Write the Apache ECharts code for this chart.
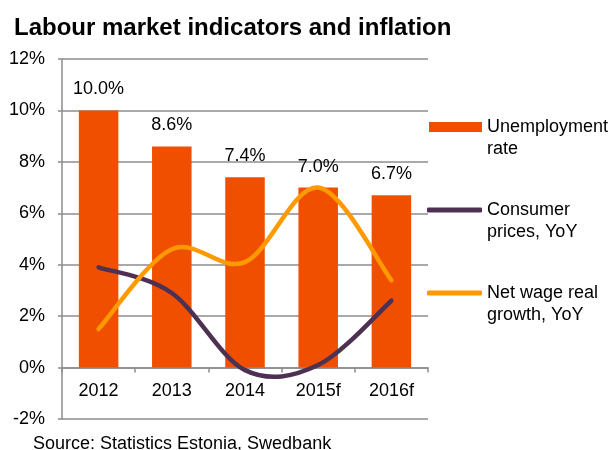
<!DOCTYPE html>
<html>
<head>
<meta charset="utf-8">
<script src="https://cdn.jsdelivr.net/npm/echarts@6/dist/echarts.min.js"></script>
<style>html,body{margin:0;padding:0;background:#fff}#c{width:613px;height:450px}</style>
</head>
<body>
<div id="c"></div>
<script>
const categories = ['2012', '2013', '2014', '2015f', '2016f'];
const unemployment = [10.0, 8.6, 7.4, 7.0, 6.7];
const consumerPrices = [3.9, 2.9, -0.1, 0.1, 2.6];
const netWage = [1.5, 4.6, 4.1, 7.0, 3.4];
const yTicks = { min: -2, max: 12, interval: 2 };
const names = ['Unemployment\nrate', 'Consumer\nprices, YoY', 'Net wage real\ngrowth, YoY'];

const FONT = '"Liberation Sans", Arial, sans-serif';
const GRID = { left: 62, right: 185, top: 59, bottom: 31 };
const plotH = 450 - GRID.top - GRID.bottom;
const zeroOffset = -plotH * (0 - yTicks.min) / (yTicks.max - yTicks.min);

// Excel-style smoothed line (Catmull-Rom Bezier) drawn via the chart's coordinate system
function smoothRenderer(color) {
  return function (params, api) {
    if (params.dataIndexInside !== 0) return null;
    const n = params.dataInsideLength;
    const pts = [];
    for (let j = 0; j < n; j++) pts.push(api.coord([api.value(0, j), api.value(1, j)]));
    let d = 'M' + pts[0][0] + ' ' + pts[0][1];
    for (let j = 0; j < n - 1; j++) {
      const p0 = pts[Math.max(0, j - 1)], p1 = pts[j], p2 = pts[j + 1], p3 = pts[Math.min(n - 1, j + 2)];
      const c1 = [p1[0] + (p2[0] - p0[0]) / 6, p1[1] + (p2[1] - p0[1]) / 6];
      const c2 = [p2[0] - (p3[0] - p1[0]) / 6, p2[1] - (p3[1] - p1[1]) / 6];
      d += ' C' + c1[0] + ' ' + c1[1] + ' ' + c2[0] + ' ' + c2[1] + ' ' + p2[0] + ' ' + p2[1];
    }
    return {
      type: 'path',
      shape: { pathData: d },
      style: { fill: null, stroke: color, lineWidth: 4.5, lineCap: 'round', lineJoin: 'round' }
    };
  };
}

const legendText = { fontFamily: FONT, fontSize: 18, color: '#000', lineHeight: 22 };
const legendFmt = name => ' \n' + name;
const chart = echarts.init(document.getElementById('c'), null, { renderer: 'canvas' });
chart.setOption({
  animation: false,
  title: {
    text: 'Labour market indicators and inflation',
    left: 9, top: 11,
    textStyle: { fontFamily: FONT, fontWeight: 'bold', fontSize: 24, color: '#000' }
  },
  grid: GRID,
  legend: [
    { data: [names[0]], left: 424, top: 89, icon: 'rect', itemWidth: 53, itemHeight: 10,
      formatter: legendFmt, textStyle: legendText, selectedMode: false },
    { data: [names[1]], left: 422, top: 172, icon: 'roundRect', itemWidth: 55, itemHeight: 5,
      formatter: legendFmt, textStyle: legendText, selectedMode: false },
    { data: [names[2]], left: 422, top: 255, icon: 'roundRect', itemWidth: 55, itemHeight: 5,
      formatter: legendFmt, textStyle: legendText, selectedMode: false }
  ],
  xAxis: {
    type: 'category',
    data: categories,
    offset: zeroOffset,
    axisLine: { onZero: false, lineStyle: { color: '#8c8c8c', width: 1.5 } },
    axisTick: { show: true, length: 5, lineStyle: { color: '#8c8c8c', width: 1.5 } },
    axisLabel: { fontFamily: FONT, fontSize: 18, color: '#000', margin: 14 }
  },
  yAxis: {
    type: 'value',
    min: yTicks.min, max: yTicks.max, interval: yTicks.interval,
    axisLine: { show: true, lineStyle: { color: '#8c8c8c', width: 1.5 } },
    axisTick: { show: true, length: 4, lineStyle: { color: '#8c8c8c', width: 1.5 } },
    axisLabel: { fontFamily: FONT, fontSize: 18, color: '#000', margin: 17, formatter: '{value}%' },
    splitLine: { show: true, lineStyle: { color: '#8c8c8c', width: 1.5 } }
  },
  series: [
    {
      name: names[0], type: 'bar', data: unemployment, barWidth: '54%', z: 2,
      itemStyle: { color: '#F04F00' },
      label: { show: true, position: 'top', distance: 12, fontFamily: FONT, fontSize: 18, color: '#000',
        formatter: p => p.value.toFixed(1) + '%' }
    },
    {
      name: names[1], type: 'custom', clip: false, z: 5,
      data: consumerPrices.map((v, i) => [i, v]),
      encode: { x: 0, y: 1 },
      itemStyle: { color: '#4E3152' },
      renderItem: smoothRenderer('#4E3152')
    },
    {
      name: names[2], type: 'custom', clip: false, z: 6,
      data: netWage.map((v, i) => [i, v]),
      encode: { x: 0, y: 1 },
      itemStyle: { color: '#FF9900' },
      renderItem: smoothRenderer('#FF9900')
    }
  ],
  graphic: [{
    type: 'text', left: 33, top: 435,
    style: { text: 'Source: Statistics Estonia, Swedbank', fontFamily: FONT, fontSize: 18, fill: '#000' }
  }]
});
</script>
</body>
</html>
